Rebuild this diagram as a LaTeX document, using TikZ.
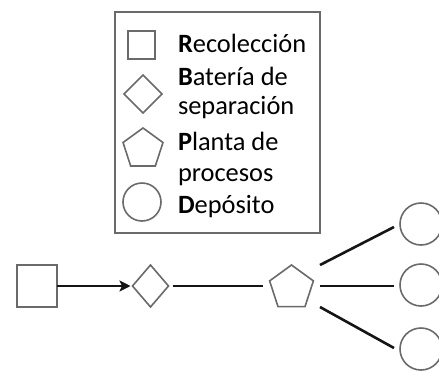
\documentclass[tikz,border=0pt]{standalone}
\usepackage{fontspec}
\setmainfont{Carlito}
\usetikzlibrary{shapes.geometric,arrows.meta}
\definecolor{shapegray}{HTML}{6A6A6A}
\definecolor{linedark}{HTML}{151515}
\begin{document}
\begin{tikzpicture}[x=1pt,y=-1pt,
  outline/.style={draw=shapegray, line width=1.6pt, fill=white, inner sep=0pt, outer sep=0pt},
  sqbox/.style={outline, rectangle, minimum width=#1, minimum height=#1},
  dmd/.style={outline, diamond, minimum width=#1, minimum height=#1},
  pent/.style={outline, regular polygon, regular polygon sides=5, minimum size=#1},
  rnd/.style={outline, circle, minimum size=#1},
  legtext/.style={anchor=base west, inner sep=0pt, outer sep=0pt,
    font=\fontsize{26.4}{32}\selectfont},
  conn/.style={draw=linedark, line width=2.6pt},
]
\useasboundingbox (0,0) rectangle (439,370);

% legend frame
\node[draw=shapegray, line width=1.6pt, rectangle, inner sep=0pt,
  minimum width=205, minimum height=221] (legend) at (217.5,122.5) {};

% legend symbols
\node[sqbox=27.5] (lsq) at (141.5,45) {};
\node[dmd=38] (ldm) at (143,94) {};
\node[pent=42] (lpt) at (143,149) {};
\node[rnd=38] (lci) at (142,202) {};

% legend texts
\node[legtext] (t1) at (178,52) {\textbf{R}ecolección};
\node[legtext] (t2) at (178,85) {\textbf{B}atería de};
\node[legtext] (t3) at (178,114) {separación};
\node[legtext] (t4) at (178,150) {\textbf{P}lanta de};
\node[legtext] (t5) at (178,181) {procesos};
\node[legtext] (t6) at (178,213) {\textbf{D}epósito};

% process chain
\node[outline, rectangle, minimum width=40, minimum height=42] (rec) at (37,286) {};
\node[outline, diamond, minimum width=36, minimum height=42] (bat) at (150.5,286) {};
\node[pent=46] (pla) at (291.5,288) {};
\node[rnd=42] (dep1) at (421,224) {};
\node[rnd=42] (dep2) at (421,285) {};
\node[rnd=42] (dep3) at (421,349) {};

% connectors
\draw[conn, -{Stealth[length=11pt,width=11pt,inset=2.5pt]}, shorten >=2pt] (rec) -- (bat);
\draw[conn, shorten <=4pt, shorten >=9pt] (bat.east) -- (bat.east -| pla.west);

\coordinate (pa) at (320,265);
\coordinate (pb) at (320,286);
\coordinate (pc) at (320,307);
\coordinate (da) at (394,227);
\coordinate (db) at (394,286);
\coordinate (dc) at (394,348);
\draw[conn] (pa) -- (da);
\draw[conn] (pb) -- (db);
\draw[conn] (pc) -- (dc);
\end{tikzpicture}
\end{document}
